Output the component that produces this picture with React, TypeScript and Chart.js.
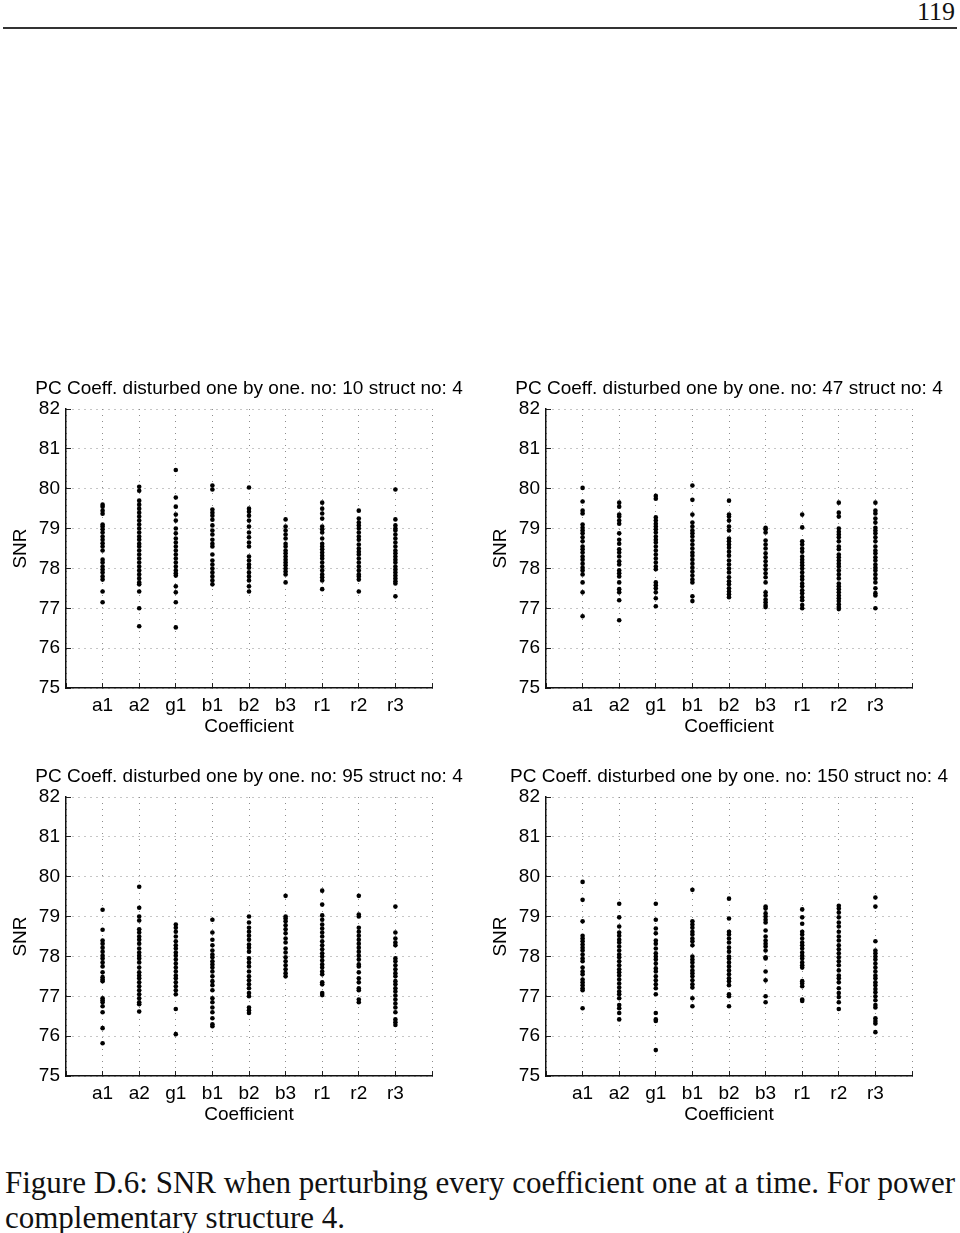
import React, { useEffect, useRef } from 'react';
import { Chart, registerables } from 'chart.js';

Chart.register(...registerables);

// ---------- data ----------
const COEFFICIENTS = ['a1', 'a2', 'g1', 'b1', 'b2', 'b3', 'r1', 'r2', 'r3'];
const Y_MIN = 75;
const Y_MAX = 82;

const TITLE_NO10 = 'PC Coeff. disturbed one by one. no: 10 struct no: 4';
const TITLE_NO47 = 'PC Coeff. disturbed one by one. no: 47 struct no: 4';
const TITLE_NO95 = 'PC Coeff. disturbed one by one. no: 95 struct no: 4';
const TITLE_NO150 = 'PC Coeff. disturbed one by one. no: 150 struct no: 4';

const snrNo10: number[][] = [
  [79.6, 79.55, 79.45, 79.37, 79.1, 79.05, 78.98, 78.9, 78.8, 78.72, 78.63, 78.55, 78.45, 78.22, 78.15, 78.05, 77.97, 77.9, 77.8, 77.72, 77.42, 77.15],
  [80.05, 79.95, 79.7, 79.6, 79.5, 79.4, 79.3, 79.2, 79.1, 79.0, 78.9, 78.8, 78.72, 78.62, 78.55, 78.45, 78.35, 78.25, 78.15, 78.05, 77.95, 77.85, 77.75, 77.65, 77.6, 77.42, 77.0, 76.55],
  [80.47, 79.78, 79.55, 79.35, 79.2, 79.0, 78.88, 78.75, 78.65, 78.55, 78.45, 78.35, 78.25, 78.15, 78.05, 77.95, 77.88, 77.82, 77.55, 77.4, 77.15, 76.52],
  [80.08, 79.98, 79.48, 79.4, 79.32, 79.22, 79.08, 78.95, 78.85, 78.72, 78.62, 78.55, 78.35, 78.2, 78.1, 78.0, 77.9, 77.8, 77.7, 77.6],
  [80.03, 79.5, 79.42, 79.32, 79.2, 79.05, 78.9, 78.78, 78.65, 78.55, 78.3, 78.2, 78.1, 78.02, 77.9, 77.8, 77.7, 77.55, 77.42],
  [79.23, 79.05, 78.95, 78.85, 78.75, 78.62, 78.55, 78.45, 78.38, 78.3, 78.22, 78.15, 78.08, 78.0, 77.92, 77.85, 77.65],
  [79.65, 79.5, 79.38, 79.25, 79.05, 78.98, 78.9, 78.75, 78.62, 78.55, 78.48, 78.4, 78.32, 78.25, 78.15, 78.05, 77.95, 77.85, 77.78, 77.7, 77.48],
  [79.45, 79.25, 79.15, 79.08, 79.0, 78.9, 78.8, 78.72, 78.6, 78.5, 78.42, 78.35, 78.25, 78.15, 78.05, 77.95, 77.85, 77.8, 77.72, 77.42],
  [79.98, 79.23, 79.08, 79.0, 78.95, 78.85, 78.75, 78.65, 78.55, 78.45, 78.38, 78.3, 78.22, 78.15, 78.05, 77.97, 77.9, 77.82, 77.75, 77.68, 77.62, 77.3],
];

const snrNo47: number[][] = [
  [80.02, 79.68, 79.45, 79.38, 79.1, 79.02, 78.95, 78.88, 78.78, 78.68, 78.55, 78.48, 78.4, 78.3, 78.22, 78.12, 78.02, 77.95, 77.85, 77.65, 77.4, 76.8],
  [79.65, 79.55, 79.35, 79.3, 79.2, 79.12, 78.88, 78.72, 78.62, 78.48, 78.4, 78.3, 78.18, 78.1, 77.95, 77.88, 77.8, 77.65, 77.48, 77.4, 77.2, 76.7],
  [79.82, 79.75, 79.28, 79.2, 79.12, 79.05, 78.98, 78.9, 78.8, 78.72, 78.65, 78.55, 78.45, 78.35, 78.25, 78.15, 78.05, 77.98, 77.65, 77.58, 77.5, 77.4, 77.25, 77.05],
  [80.08, 79.72, 79.35, 79.15, 79.05, 78.95, 78.88, 78.8, 78.7, 78.6, 78.5, 78.4, 78.32, 78.22, 78.12, 78.02, 77.92, 77.82, 77.72, 77.65, 77.3, 77.18],
  [79.7, 79.35, 79.3, 79.2, 79.05, 78.95, 78.75, 78.68, 78.6, 78.52, 78.42, 78.32, 78.2, 78.1, 78.0, 77.9, 77.78, 77.68, 77.6, 77.5, 77.42, 77.35, 77.28],
  [79.02, 78.98, 78.9, 78.7, 78.6, 78.5, 78.38, 78.28, 78.18, 78.08, 77.98, 77.88, 77.78, 77.65, 77.4, 77.32, 77.22, 77.15, 77.08, 77.03],
  [79.35, 79.03, 78.68, 78.6, 78.5, 78.42, 78.3, 78.22, 78.15, 78.08, 78.0, 77.9, 77.8, 77.72, 77.62, 77.55, 77.45, 77.38, 77.28, 77.2, 77.08, 77.0],
  [79.65, 79.4, 79.3, 79.0, 78.92, 78.85, 78.78, 78.68, 78.55, 78.48, 78.35, 78.28, 78.2, 78.12, 78.05, 77.95, 77.85, 77.75, 77.62, 77.55, 77.48, 77.4, 77.32, 77.25, 77.18, 77.1, 77.03, 76.98],
  [79.65, 79.45, 79.38, 79.25, 79.15, 79.02, 78.95, 78.88, 78.78, 78.68, 78.55, 78.45, 78.38, 78.28, 78.2, 78.1, 78.02, 77.95, 77.85, 77.75, 77.65, 77.5, 77.38, 77.32, 77.0],
];

const snrNo95: number[][] = [
  [79.17, 78.67, 78.4, 78.32, 78.22, 78.12, 78.02, 77.95, 77.85, 77.75, 77.6, 77.48, 77.42, 77.38, 76.95, 76.9, 76.85, 76.75, 76.6, 76.2, 75.82],
  [79.75, 79.22, 79.0, 78.9, 78.68, 78.6, 78.5, 78.42, 78.32, 78.2, 78.1, 78.02, 77.95, 77.85, 77.72, 77.6, 77.52, 77.45, 77.35, 77.25, 77.15, 77.05, 76.95, 76.85, 76.8, 76.62],
  [78.8, 78.72, 78.62, 78.5, 78.38, 78.28, 78.2, 78.1, 78.02, 77.92, 77.82, 77.72, 77.62, 77.52, 77.45, 77.35, 77.25, 77.15, 77.05, 76.68, 76.05],
  [78.92, 78.6, 78.42, 78.28, 78.15, 78.05, 77.98, 77.88, 77.8, 77.72, 77.62, 77.5, 77.38, 77.28, 77.15, 76.95, 76.85, 76.72, 76.6, 76.45, 76.3, 76.25],
  [79.0, 78.85, 78.72, 78.62, 78.52, 78.42, 78.3, 78.22, 78.12, 77.95, 77.85, 77.75, 77.62, 77.5, 77.4, 77.3, 77.2, 77.08, 77.0, 76.72, 76.65, 76.58],
  [79.52, 79.0, 78.95, 78.88, 78.78, 78.68, 78.58, 78.45, 78.35, 78.2, 78.1, 77.98, 77.88, 77.78, 77.68, 77.58, 77.5],
  [79.65, 79.3, 79.03, 78.92, 78.8, 78.7, 78.6, 78.5, 78.38, 78.28, 78.18, 78.08, 78.0, 77.9, 77.8, 77.72, 77.62, 77.55, 77.35, 77.3, 77.08, 77.03],
  [79.52, 79.05, 79.0, 78.72, 78.62, 78.52, 78.42, 78.32, 78.22, 78.12, 78.02, 77.92, 77.8, 77.75, 77.6, 77.45, 77.35, 77.2, 77.15, 76.92, 76.85],
  [79.25, 78.6, 78.45, 78.35, 78.28, 77.95, 77.88, 77.78, 77.68, 77.58, 77.5, 77.38, 77.3, 77.2, 77.12, 77.02, 76.92, 76.82, 76.72, 76.6, 76.42, 76.35, 76.28],
];

const snrNo150: number[][] = [
  [79.87, 79.42, 78.88, 78.52, 78.45, 78.38, 78.3, 78.22, 78.15, 78.05, 77.95, 77.88, 77.72, 77.62, 77.55, 77.42, 77.35, 77.28, 77.2, 77.15, 76.7],
  [79.32, 78.98, 78.75, 78.6, 78.52, 78.42, 78.35, 78.25, 78.15, 78.05, 77.98, 77.88, 77.78, 77.68, 77.6, 77.52, 77.42, 77.32, 77.22, 77.12, 77.05, 76.95, 76.78, 76.7, 76.58, 76.42],
  [79.32, 78.92, 78.7, 78.58, 78.4, 78.32, 78.2, 78.08, 78.0, 77.92, 77.82, 77.7, 77.62, 77.5, 77.4, 77.3, 77.2, 77.05, 76.58, 76.42, 76.38, 75.65],
  [79.67, 78.88, 78.8, 78.72, 78.62, 78.55, 78.45, 78.38, 78.28, 78.0, 77.92, 77.85, 77.75, 77.65, 77.58, 77.5, 77.4, 77.3, 77.22, 76.95, 76.75],
  [79.45, 78.95, 78.62, 78.55, 78.45, 78.35, 78.22, 78.12, 78.0, 77.95, 77.85, 77.75, 77.65, 77.55, 77.45, 77.38, 77.28, 77.05, 77.0, 76.75],
  [79.25, 79.2, 79.08, 79.0, 78.92, 78.85, 78.65, 78.5, 78.4, 78.32, 78.25, 78.15, 77.98, 77.95, 77.62, 77.4, 77.0, 76.85],
  [79.18, 78.98, 78.82, 78.62, 78.55, 78.45, 78.35, 78.28, 78.2, 78.1, 78.02, 77.95, 77.85, 77.78, 77.72, 77.38, 77.32, 77.25, 76.92, 76.88],
  [79.27, 79.2, 79.1, 78.98, 78.85, 78.75, 78.62, 78.5, 78.4, 78.28, 78.18, 78.08, 77.98, 77.88, 77.78, 77.65, 77.52, 77.45, 77.35, 77.2, 77.08, 76.98, 76.85, 76.68],
  [79.48, 79.25, 78.38, 78.15, 78.08, 78.0, 77.92, 77.82, 77.72, 77.62, 77.52, 77.45, 77.35, 77.28, 77.18, 77.1, 77.0, 76.9, 76.78, 76.72, 76.45, 76.38, 76.32, 76.1],
];

// ---------- layout / style ----------
const SANS = "'Liberation Sans', Arial, Helvetica, sans-serif";
const SERIF = "'Liberation Serif', 'Times New Roman', serif";
const FONT_SIZE = 19;
const CANVAS_W = 480;
const CANVAS_H = 388;

const PANELS = [
  { title: TITLE_NO10, values: snrNo10, left: 0, top: 360 },
  { title: TITLE_NO47, values: snrNo47, left: 480, top: 360 },
  { title: TITLE_NO95, values: snrNo95, left: 0, top: 748 },
  { title: TITLE_NO150, values: snrNo150, left: 480, top: 748 },
];

const PAD = { top: 49, right: 48, bottom: 10, left: 0 };
const Y_AXIS_W = 66;
const X_AXIS_H = 50;

function Panel({ title, values, left, top }: { title: string; values: number[][]; left: number; top: number }) {
  const ref = useRef<HTMLCanvasElement | null>(null);

  useEffect(() => {
    if (!ref.current) return;
    const points = values.flatMap((col, i) => col.map((v) => ({ x: i + 1, y: v })));
    const font = { family: SANS, size: FONT_SIZE, lineHeight: 1.2 };
    const gridOpts = {
      color: '#8c8c8c',
      lineWidth: 1,
      drawTicks: true,
      tickLength: -5,
      tickColor: '#222',
      tickWidth: 1,
      tickBorderDash: [],
    };
    const chart = new Chart(ref.current, {
      type: 'scatter',
      data: {
        datasets: [
          {
            data: points,
            backgroundColor: '#000',
            borderColor: '#000',
            borderWidth: 0,
            pointRadius: 2.3,
            pointHoverRadius: 2.3,
          },
        ],
      },
      options: {
        animation: false,
        responsive: false,
        maintainAspectRatio: false,
        events: [],
        layout: { padding: PAD },
        plugins: {
          legend: { display: false },
          tooltip: { enabled: false },
          title: { display: false },
        },
        scales: {
          x: {
            type: 'linear',
            min: 0,
            max: COEFFICIENTS.length + 1,
            afterBuildTicks: (scale: any) => {
              const t = [];
              for (let v = 0; v <= COEFFICIENTS.length + 1; v++) t.push({ value: v });
              scale.ticks = t;
            },
            ticks: {
              autoSkip: false,
              maxRotation: 0,
              padding: 11,
              color: '#000',
              font,
              callback: (v: any) => COEFFICIENTS[Number(v) - 1] ?? '',
            },
            grid: gridOpts,
            border: { display: true, color: '#111', width: 1.5, dash: [1, 5] },
            title: { display: true, text: 'Coefficient', color: '#000', font, padding: { top: 0, bottom: 0 } },
            afterFit: (scale: any) => {
              scale.height = X_AXIS_H;
            },
          },
          y: {
            type: 'linear',
            min: Y_MIN,
            max: Y_MAX,
            ticks: { stepSize: 1, padding: 11, color: '#000', font },
            grid: gridOpts,
            border: { display: true, color: '#111', width: 1.5, dash: [1, 5] },
            title: { display: true, text: 'SNR', color: '#000', font, padding: { top: 9, bottom: 0 } },
            afterFit: (scale: any) => {
              scale.width = Y_AXIS_W;
            },
          },
        },
      } as any,
    });
    return () => chart.destroy();
  }, [values]);

  const areaCenterX = left + PAD.left + Y_AXIS_W + (CANVAS_W - PAD.left - PAD.right - Y_AXIS_W) / 2;
  const titleCenterY = top + 28;

  return (
    <>
      <canvas
        ref={ref}
        width={CANVAS_W}
        height={CANVAS_H}
        style={{ position: 'absolute', left, top, width: CANVAS_W, height: CANVAS_H }}
      />
      <div
        style={{
          position: 'absolute',
          left: areaCenterX - 260,
          width: 520,
          top: titleCenterY - 11,
          height: 22,
          lineHeight: '22px',
          fontFamily: SANS,
          fontSize: FONT_SIZE,
          color: '#000',
          textAlign: 'center',
          whiteSpace: 'nowrap',
        }}
      >
        {title}
      </div>
    </>
  );
}

export default function App() {
  return (
    <div
      style={{
        position: 'absolute',
        left: 0,
        top: 0,
        width: 960,
        height: 1233,
        background: '#fff',
        overflow: 'hidden',
      }}
    >
      <div
        style={{
          position: 'absolute',
          right: 5,
          top: -2,
          fontFamily: SERIF,
          fontSize: 26,
          lineHeight: '28px',
          color: '#111',
        }}
      >
        119
      </div>
      <div style={{ position: 'absolute', left: 3, top: 27, width: 954, height: 2, background: '#333' }} />
      {PANELS.map((p) => (
        <Panel key={p.title} title={p.title} values={p.values} left={p.left} top={p.top} />
      ))}
      <div
        style={{
          position: 'absolute',
          left: 5,
          top: 1165,
          width: 950,
          fontFamily: SERIF,
          fontSize: 31,
          lineHeight: '35px',
          color: '#111',
          textAlign: 'justify',
          textAlignLast: 'justify' as any,
          whiteSpace: 'nowrap',
        }}
      >
        Figure D.6: SNR when perturbing every coefficient one at a time. For power
      </div>
      <div
        style={{
          position: 'absolute',
          left: 5,
          top: 1200,
          fontFamily: SERIF,
          fontSize: 31,
          lineHeight: '35px',
          color: '#111',
          whiteSpace: 'nowrap',
        }}
      >
        complementary structure 4.
      </div>
    </div>
  );
}
